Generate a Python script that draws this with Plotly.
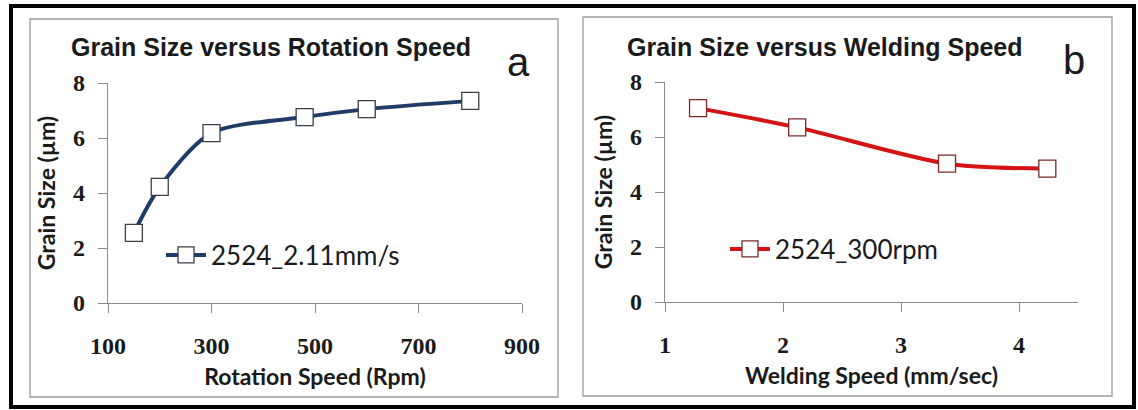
import plotly.graph_objects as go

W, H = 1138, 410

# ---- data ----
rotation_speed = [150, 200, 300, 480, 600, 800]
grain_size_a = [2.55, 4.22, 6.18, 6.76, 7.05, 7.35]
series_a = "2524_2.11mm/s"

welding_speed = [1.28, 2.12, 3.39, 4.24]
grain_size_b = [7.05, 6.35, 5.03, 4.85]
series_b = "2524_300rpm"

title_a = "Grain Size versus Rotation Speed"
title_b = "Grain Size versus Welding Speed"
xtitle_a = "Rotation Speed (Rpm)"
xtitle_b = "Welding Speed (mm/sec)"
ytitle = "Grain Size (µm)"
xticks_a = [100, 300, 500, 700, 900]
xticks_b = [1, 2, 3, 4]
yticks = [0, 2, 4, 6, 8]


def px(x):
    return x / W


def py(y):
    return 1 - y / H


fig = go.Figure()

fig.add_trace(go.Scatter(
    x=rotation_speed, y=grain_size_a, name=series_a, mode="lines+markers",
    line=dict(color="#1F3C66", width=4, shape="spline", smoothing=0.8),
    marker=dict(symbol="square", size=17, color="white",
                line=dict(color="#3A3F48", width=1.3)),
    xaxis="x", yaxis="y", legend="legend",
))
fig.add_trace(go.Scatter(
    x=welding_speed, y=grain_size_b, name=series_b, mode="lines+markers",
    line=dict(color="#D41414", width=4, shape="spline", smoothing=0.8),
    marker=dict(symbol="square", size=17, color="white",
                line=dict(color="#7A2A2A", width=1.3)),
    xaxis="x2", yaxis="y2", legend="legend2",
))

tickfont = dict(family="Liberation Serif", size=24, color="#1a1a1a", weight="bold")
titlefont = dict(family="Lato", size=23, color="#1a1a1a", weight="bold")
axis_common = dict(showline=True, linecolor="#8a8a8a", linewidth=1.3,
                   ticks="outside", ticklen=9, tickcolor="#8a8a8a", tickwidth=1.3,
                   showgrid=False, zeroline=False, tickfont=tickfont,
                   automargin=False, fixedrange=True)

fig.update_layout(
    width=W, height=H, margin=dict(l=0, r=0, t=0, b=0, pad=0, autoexpand=False),
    paper_bgcolor="white", plot_bgcolor="white",
    xaxis=dict(domain=[px(108), px(522)], range=[100, 900], tickvals=xticks_a,
               anchor="y", title=dict(text=xtitle_a, font=titlefont, standoff=10),
               ticklabelstandoff=12, **axis_common),
    yaxis=dict(domain=[py(303), py(83)], range=[0, 8], tickvals=yticks,
               anchor="x", title=dict(text=ytitle, font=titlefont, standoff=10),
               ticklabelstandoff=8, **axis_common),
    xaxis2=dict(domain=[px(665), px(1078)], range=[1, 4.5], tickvals=xticks_b,
                anchor="y2", title=dict(text=xtitle_b, font=titlefont, standoff=10),
                ticklabelstandoff=12, **axis_common),
    yaxis2=dict(domain=[py(302), py(82)], range=[0, 8], tickvals=yticks,
                anchor="x2", title=dict(text=ytitle, font=titlefont, standoff=10),
                ticklabelstandoff=8, **axis_common),
    legend=dict(x=px(161), y=py(255), xanchor="left", yanchor="middle",
                bgcolor="rgba(0,0,0,0)", font=dict(family="Lato", size=26, color="#1a1a1a"),
                itemwidth=40, tracegroupgap=0),
    legend2=dict(x=px(725), y=py(249), xanchor="left", yanchor="middle",
                 bgcolor="rgba(0,0,0,0)", font=dict(family="Lato", size=26, color="#1a1a1a"),
                 itemwidth=40, tracegroupgap=0),
    showlegend=True,
)

# panel frames and outer frame
fig.add_shape(type="rect", xref="paper", yref="paper",
              x0=px(30), x1=px(558), y0=py(397), y1=py(19),
              line=dict(color="#9a9a9a", width=1.3), layer="below")
fig.add_shape(type="rect", xref="paper", yref="paper",
              x0=px(583), x1=px(1112), y0=py(396), y1=py(17),
              line=dict(color="#9a9a9a", width=1.3), layer="below")
fig.add_shape(type="rect", xref="paper", yref="paper",
              x0=px(11), x1=px(1134), y0=py(407), y1=py(6),
              line=dict(color="black", width=4), layer="above")

tfont = dict(family="Liberation Sans", size=25, color="#1a1a1a", weight="bold")
fig.add_annotation(text=title_a, x=px(271), y=py(47), xref="paper", yref="paper",
                   showarrow=False, font=tfont, xanchor="center", yanchor="middle")
fig.add_annotation(text=title_b, x=px(825), y=py(47), xref="paper", yref="paper",
                   showarrow=False, font=tfont, xanchor="center", yanchor="middle")
lfont = dict(family="Liberation Sans", size=40, color="#1a1a1a")
fig.add_annotation(text="a", x=px(518), y=py(62), xref="paper", yref="paper",
                   showarrow=False, font=lfont, xanchor="center", yanchor="middle")
fig.add_annotation(text="b", x=px(1074), y=py(60), xref="paper", yref="paper",
                   showarrow=False, font=lfont, xanchor="center", yanchor="middle")

# remove the default 8px page margin so the 1138x410 figure fills the window
fig.write_html("out.html",
               config={"displayModeBar": False},
               post_script="document.body.style.margin='0';"
                           "document.body.style.overflow='hidden';")
